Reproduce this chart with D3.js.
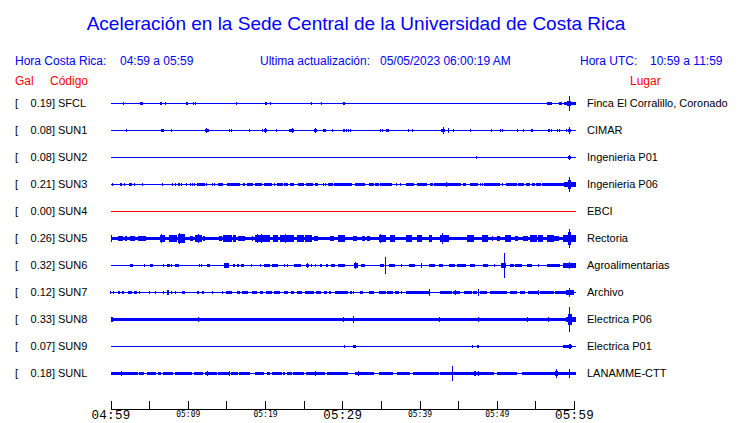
<!DOCTYPE html>
<html><head><meta charset="utf-8">
<script src="https://cdn.jsdelivr.net/npm/d3@7"></script>
<style>
html,body{margin:0;padding:0;background:#fff;}
svg{display:block;}
text{font-family:"Liberation Sans",Arial,Helvetica,sans-serif;}
</style></head>
<body>
<svg id="chart" width="740" height="423"></svg>
<script>
// ---------- data ----------
const codes  = ["SFCL","SUN1","SUN2","SUN3","SUN4","SUN5","SUN6","SUN7","SUN8","SUN9","SUNL"];
const gals   = [0.19,0.08,0.08,0.21,0.00,0.26,0.32,0.12,0.33,0.07,0.18];
const places = ["Finca El Corralillo, Coronado","CIMAR","Ingenieria P01","Ingenieria P06","EBCI","Rectoria",
                "Agroalimentarias","Archivo","Electrica P06","Electrica P01","LANAMME-CTT"];
const tickMinutes = [0,5,10,15,20,25,30,35,40,45,50,55,60];
const tickLabels  = ["04:59","","05:09","","05:19","","05:29","","05:39","","05:49","","05:59"];
const bigLabels   = ["04:59","05:29","05:59"];
const traceEnd = 60.2; // minutes of record shown
// background relative amplitude per station
const baseAmp = [0.04,0.04,0.04,0.04,0.04,0.14,0.04,0.04,0.13,0.04,0.04];
const deadStations = ["SUN4"];
// bursts: [startMinute, endMinute, relative amplitude]
const burstsSFCL = [[1.66,1.66,.12],[3.8,4.25,.12],[4.77,4.77,.06],[6.41,6.41,.12],[6.63,6.63,.08],[7.0,7.2,.12],[8.26,8.26,.06],
 [9.8,10.0,.12],[10.7,10.8,.12],[11.0,11.1,.12],[14.6,14.6,.05],[16.2,16.4,.12],[20.05,20.2,.12],[20.65,20.8,.12],[22.64,22.64,.06],
 [25.9,26.05,.1],[27.36,27.36,.1],[30.15,30.4,.12],[39.7,39.7,.06],[40.4,40.4,.06],[56.2,56.2,.06],[56.5,57.1,.12],[58.0,58.45,.12],
 [58.65,60.2,.14],[59.15,59.65,.23],[59.43,59.43,.55]];
const burstsSUN1 = [[2.1,2.1,.12],[5.76,5.76,.06],[6.55,6.9,.15],[7.88,7.88,.12],[12.25,12.7,.15],[12.45,12.45,.22],[13.97,13.97,.05],
 [15.4,15.4,.1],[15.65,15.65,.1],[18.0,18.0,.1],[19.66,19.66,.1],[19.9,20.3,.15],[20.0,20.0,.22],[21.5,21.5,.1],[23.15,23.73,.15],
 [23.5,23.5,.2],[26.4,26.7,.15],[26.55,26.55,.22],[27.5,27.9,.13],[28.7,28.7,.08],[30.1,30.4,.12],[30.5,30.5,.1],[30.76,30.76,.1],
 [31.06,31.06,.1],[34.9,34.9,.1],[35.2,35.2,.1],[35.7,36.0,.12],[36.1,36.1,.06],[38.6,38.6,.1],[39.05,39.05,.1],[42.2,42.2,.05],
 [42.8,43.3,.13],[43.05,43.05,.25],[43.76,43.76,.2],[44.4,44.4,.1],[46.6,46.6,.1],[49.25,49.4,.12],[50.5,50.5,.1],[50.75,50.75,.1],
 [52.65,52.65,.1],[53.47,53.47,.1],[54.47,54.7,.12],[55.2,55.2,.05],[56.6,56.9,.13],[57.15,57.15,.1],[57.8,57.8,.1],[58.06,58.06,.1],
 [59.0,59.0,.1],[59.2,59.6,.15],[59.4,59.4,.25],[59.95,59.95,.05]];
const burstsSUN2 = [[30.2,30.2,.05],[47.4,47.5,.12],[59.2,59.65,.15],[59.3,59.5,.22]];
const burstsSUN3 = [[0.24,0.24,.12],[1.23,1.23,.12],[1.45,1.45,.12],[1.79,1.79,.12],[2.4,2.74,.13],[3.17,3.17,.12],[4.12,4.12,.12],
 [6.76,6.76,.12],[8.05,8.05,.12],[8.35,8.35,.12],[8.79,9.0,.13],[9.22,9.22,.12],[9.87,9.87,.12],[10.38,10.38,.12],[10.6,10.6,.12],
 [10.86,10.86,.12],[11.25,12.24,.13],[12.46,12.46,.12],[13.2,13.2,.12],[13.45,13.45,.12],[13.97,14.5,.13],[15.1,16.8,.13],
 [17.2,17.4,.13],[17.7,18.4,.13],[18.76,19.58,.13],[19.9,20.88,.13],[21.2,21.2,.12],[21.5,22.3,.13],[22.5,22.95,.13],[23.25,23.8,.13],
 [24.33,25.07,.13],[25.3,26.27,.13],[26.5,26.9,.13],[27.57,27.57,.12],[27.87,27.87,.12],[28.13,28.86,.13],[28.95,29.7,.13],
 [29.73,31.24,.13],[31.67,32.97,.13],[33.4,34.05,.13],[34.2,34.8,.13],[34.9,36.4,.13],[37.0,37.0,.12],[37.5,37.5,.12],[38.3,39.3,.13],
 [39.7,41.0,.13],[41.3,41.7,.13],[41.9,43.1,.13],[43.1,45.35,.13],[43.5,43.5,.2],[45.6,45.96,.13],[46.6,47.6,.13],[47.9,47.9,.12],
 [48.2,48.2,.12],[48.4,50.4,.13],[50.8,50.8,.12],[51.2,52.6,.13],[52.8,53.5,.13],[53.8,54.3,.13],[54.56,54.9,.13],[55.1,55.7,.13],
 [55.86,58.7,.13],[58.7,60.2,.18],[59.2,59.6,.36],[59.42,59.42,.58]];
const burstsSUN4 = [];
const burstsSUN5 = [[0,0.15,.25],[1.0,1.66,.18],[1.9,2.1,.2],[2.5,3.2,.22],[3.5,4.55,.22],[6.4,7.06,.28],[6.55,6.55,.33],[7.6,8.57,.28],
 [8.7,9.65,.33],[8.9,8.9,.42],[10.3,10.7,.22],[10.9,11.8,.26],[11.4,11.4,.34],[12.0,12.25,.2],[14.05,14.4,.22],[14.6,15.7,.28],
 [15.8,16.3,.24],[16.55,17.4,.22],[18.3,18.5,.2],[18.7,20.7,.3],[19.0,19.0,.38],[19.6,19.6,.36],[21.1,21.7,.25],[21.95,23.7,.28],
 [22.7,22.7,.34],[24.1,25.1,.27],[25.2,26.1,.25],[26.4,26.9,.22],[28.4,28.9,.22],[29.5,30.4,.24],[31.45,31.9,.2],[32.5,32.96,.2],
 [33.2,33.6,.2],[34.7,35.6,.3],[34.9,34.9,.38],[36.2,36.85,.25],[38.2,39.0,.28],[39.7,40.3,.25],[41.2,41.6,.25],[42.7,43.8,.3],
 [43.0,43.0,.45],[46.1,47.0,.25],[48.07,48.9,.25],[49.4,49.4,.2],[50.0,50.4,.2],[51.1,51.8,.25],[52.4,52.8,.2],[53.4,54.0,.22],
 [54.3,55.2,.25],[55.4,56.0,.27],[56.5,57.4,.25],[57.4,58.0,.22],[58.6,60.2,.3],[59.2,59.6,.48],[59.4,59.4,.75]];
const burstsSUN6 = [[0.88,0.88,.06],[2.5,2.95,.13],[4.4,4.4,.1],[5.1,5.55,.13],[6.84,6.84,.1],[7.3,7.7,.13],[7.9,7.9,.1],[8.35,8.9,.13],
 [11.5,11.5,.1],[11.8,11.8,.1],[12.55,12.9,.13],[14.5,14.5,.06],[14.75,15.4,.17],[15.8,16.1,.13],[16.4,16.65,.13],[16.9,17.3,.13],
 [18.3,18.3,.1],[19.4,19.4,.1],[19.9,20.6,.15],[20.96,21.65,.13],[22.5,22.5,.1],[22.95,22.95,.1],[23.8,24.6,.15],[25.3,25.7,.15],
 [25.5,25.5,.22],[26.06,26.06,.1],[26.5,26.5,.1],[27.1,27.35,.13],[27.9,28.1,.15],[28.5,29.0,.13],[29.5,30.4,.13],[31.5,32.1,.2],
 [31.7,31.7,.3],[32.4,33.0,.15],[34.9,35.35,.15],[35.56,35.56,.65],[36.0,36.85,.13],[37.7,37.7,.1],[38.6,39.4,.13],[40.3,40.3,.2],
 [41.2,42.0,.13],[42.5,43.1,.13],[43.8,44.6,.13],[44.85,46.0,.13],[46.6,47.2,.13],[48.2,48.9,.15],[49.7,49.7,.1],[50.6,51.2,.18],
 [51.0,51.0,.95],[51.75,52.2,.13],[52.4,53.3,.13],[53.9,54.56,.13],[55.4,55.4,.13],[56.5,58.2,.15],[58.6,60.2,.18],[59.4,59.4,.25]];
const burstsSUN7 = [[0.02,0.02,.12],[0.45,0.45,.12],[1.0,1.23,.13],[1.45,1.8,.13],[2.3,2.74,.13],[3.1,3.4,.13],[3.73,3.73,.12],
 [5.1,5.1,.12],[5.85,5.85,.12],[6.85,6.85,.12],[7.3,7.6,.2],[7.9,7.9,.12],[8.35,8.35,.12],[9.3,9.7,.13],[11.25,11.45,.13],
 [11.9,12.1,.13],[13.2,13.2,.12],[14.5,14.5,.12],[14.97,15.7,.13],[16.35,16.8,.13],[17.0,17.85,.13],[18.3,18.9,.13],[19.4,19.8,.13],
 [20.1,20.88,.13],[21.2,21.95,.13],[22.5,23.0,.13],[23.4,23.8,.13],[24.1,24.85,.13],[25.2,26.3,.13],[26.6,27.2,.13],[27.6,28.0,.13],
 [28.3,28.6,.13],[29.0,30.8,.13],[31.0,31.2,.13],[31.5,31.5,.12],[32.3,32.75,.13],[33.5,34.05,.13],[34.8,35.6,.13],[35.8,36.6,.13],
 [36.85,37.3,.13],[37.7,37.7,.12],[38.2,41.2,.13],[41.3,41.3,.25],[42.7,44.2,.13],[44.4,45.3,.13],[44.6,44.6,.2],[45.7,46.8,.13],
 [46.9,47.4,.13],[47.65,47.65,.25],[47.85,48.7,.13],[49.07,51.3,.13],[51.75,52.6,.13],[53.05,53.7,.13],[54.04,55.4,.13],
 [55.4,55.4,.2],[55.6,57.4,.13],[57.5,59.1,.13],[58.9,59.95,.18],[59.45,59.45,.35]];
const burstsSUN8 = [[0,0.3,.18],[11.4,11.4,.22],[30.2,30.2,.2],[31.5,31.5,.3],[42.6,42.6,.2],[47.65,47.65,.23],[54.0,54.0,.2],
 [56.7,56.7,.18],[58.9,60.2,.2],[59.2,59.8,.45],[59.4,59.4,.96]];
const burstsSUN9 = [[30.25,30.25,.08],[31.45,31.8,.12],[44.0,44.0,.06],[46.8,46.8,.1],[47.4,47.65,.12],[58.6,59.8,.15],[59.3,59.6,.22]];
const burstsSUNL = [[0,3.52,.12],[3.69,4.38,.12],[4.68,5.85,.12],[6.2,6.54,.12],[6.84,8.14,.12],[8.35,10.6,.12],[10.86,12.0,.12],
 [12.24,13.75,.12],[13.97,15.35,.12],[15.6,16.47,.12],[16.65,18.07,.12],[18.72,19.93,.12],[20.23,20.66,.12],[20.88,22.17,.12],
 [22.39,22.6,.12],[22.82,23.47,.12],[23.68,25.1,.12],[25.28,27.78,.12],[28.0,30.8,.12],[31.67,34.05,.12],[34.7,36.6,.12],
 [37.05,38.8,.12],[39.2,42.5,.12],[42.7,49.6,.12],[50.0,52.6,.12],[53.3,60.2,.12],
 [1.45,1.45,.2],[12.5,12.5,.18],[15.35,15.35,.18],[26.6,26.6,.2],[32.1,32.1,.18],[44.3,44.3,.54],[47.0,47.3,.18],
 [47.65,47.65,.18],[57.5,57.9,.2],[57.7,57.7,.33],[59.45,59.45,.32]];
const burstsAll = [burstsSFCL,burstsSUN1,burstsSUN2,burstsSUN3,burstsSUN4,burstsSUN5,burstsSUN6,burstsSUN7,burstsSUN8,burstsSUN9,burstsSUNL];

// ---------- drawing ----------
const svg = d3.select("#chart");
const blue = "#0000ff", red = "#ff0000";

svg.append("text").attr("x",356).attr("y",30).attr("text-anchor","middle")
  .attr("fill",blue).style("font-size","19px")
  .text("Aceleración en la Sede Central de la Universidad de Costa Rica");

const header = [
  {t:"Hora Costa Rica:", x:15, y:65, c:blue},
  {t:"04:59 a 05:59", x:120, y:65, c:blue},
  {t:"Ultima actualización:", x:260, y:65, c:blue},
  {t:"05/05/2023 06:00:19 AM", x:380, y:65, c:blue},
  {t:"Hora UTC:", x:580, y:65, c:blue},
  {t:"10:59 a 11:59", x:650, y:65, c:blue},
  {t:"Gal", x:15, y:85, c:red},
  {t:"Código", x:50, y:85, c:red},
  {t:"Lugar", x:630, y:85, c:red}
];
svg.selectAll("text.hdr").data(header).enter().append("text").attr("class","hdr")
  .attr("x",d=>d.x).attr("y",d=>d.y).attr("fill",d=>d.c).style("font-size","12px").text(d=>d.t);

const x = d3.scaleLinear().domain([0,60]).range([110.5,574]);
const row = d3.scalePoint().domain(codes).range([103.5,373.5]);
const amp = d3.scaleLinear().domain([0,1]).range([0,13]);

const stations = codes.map((c,i)=>({code:c, gal:gals[i], place:places[i], base:baseAmp[i], bursts:burstsAll[i]}));

const g = svg.selectAll("g.st").data(stations).enter().append("g").attr("class","st");

// labels
g.append("text").attr("x",15).attr("y",d=>row(d.code)+3.5).style("font-size","11px").text("[");
g.append("text").attr("x",55).attr("y",d=>row(d.code)+3.5).attr("text-anchor","end").style("font-size","11px")
  .text(d=>d.gal.toFixed(2)+"]");
g.append("text").attr("x",58).attr("y",d=>row(d.code)+3.5).style("font-size","11px").text(d=>d.code);
g.append("text").attr("x",587).attr("y",d=>row(d.code)+3.5).style("font-size","11px").text(d=>d.place);

const col = d=> deadStations.includes(d.code) ? red : blue;

// background trace
g.append("rect")
  .attr("x",x(0)).attr("width",x(traceEnd)-x(0))
  .attr("y",d=>row(d.code)-Math.max(amp(d.base),0.5))
  .attr("height",d=>2*Math.max(amp(d.base),0.5))
  .attr("fill",col).attr("shape-rendering","crispEdges");

// bursts
g.each(function(d){
  d3.select(this).selectAll("rect.b").data(d.bursts).enter().append("rect").attr("class","b")
    .attr("x",b=>{const w=x(b[1])-x(b[0]); return w<1 ? x(b[0])-0.5 : x(b[0]);})
    .attr("width",b=>Math.max(1,x(b[1])-x(b[0])))
    .attr("y",b=>row(d.code)-amp(b[2]))
    .attr("height",b=>2*amp(b[2]))
    .attr("fill",col(d)).attr("shape-rendering","crispEdges");
});

// time axis
const axisY = 409;
const axis = d3.axisBottom(x).tickValues(tickMinutes).tickSize(-8.5).tickSizeOuter(0)
  .tickFormat((m,i)=>tickLabels[i]);
const ax = svg.append("g").attr("transform",`translate(0,${axisY})`).call(axis);
ax.select(".domain").attr("stroke","#000").attr("shape-rendering","crispEdges");
ax.selectAll(".tick line").attr("stroke","#000").attr("shape-rendering","crispEdges");
ax.selectAll(".tick text").attr("fill","#000")
  .attr("dy",null)
  .each(function(){
    const t = d3.select(this), big = bigLabels.includes(t.text());
    t.style("font-family", big ? "'Liberation Mono',monospace" : "'DejaVu Sans Mono',monospace")
     .style("font-size", big ? "12.5px" : "8px")
     .style("letter-spacing", big ? "0.3px" : null)
     .attr("y", big ? 9.5 : 7.8);
  });
</script>
</body></html>
